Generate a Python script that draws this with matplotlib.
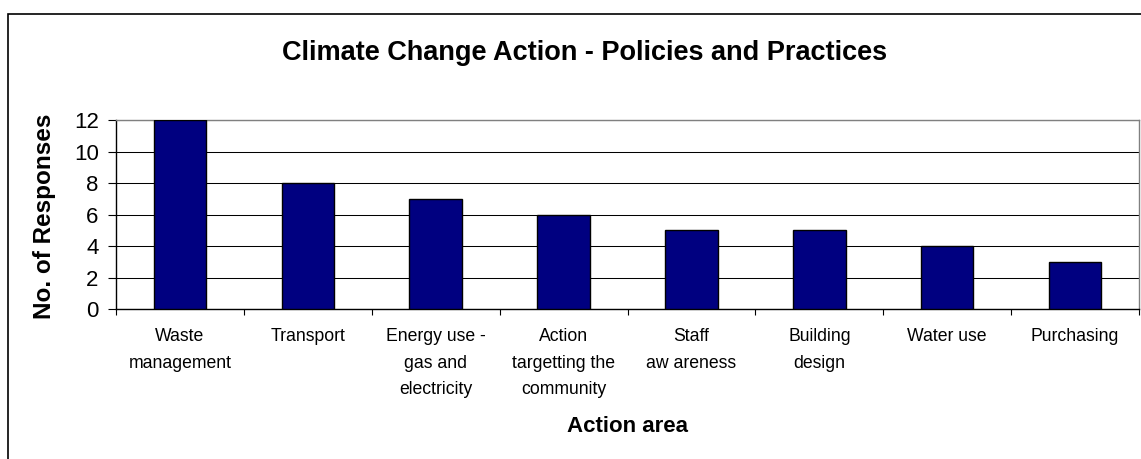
import matplotlib.pyplot as plt
from matplotlib.patches import Rectangle
import numpy as np

plt.rcParams['font.family'] = ['Liberation Sans', 'DejaVu Sans']

categories = ["Waste\nmanagement", "Transport", "Energy use -\ngas and\nelectricity",
              "Action\ntargetting the\ncommunity", "Staff\naw areness", "Building\ndesign",
              "Water use", "Purchasing"]
responses = [12, 8, 7, 6, 5, 5, 4, 3]
y_ticks = [0, 2, 4, 6, 8, 10, 12]

W, H = 1141, 459
fig = plt.figure(figsize=(W / 100, H / 100), dpi=100)
fig.patch.set_facecolor('white')

# plot area in pixel terms
left, right, top, bottom = 116, 1139, 120, 309
ax = fig.add_axes([left / W, 1 - bottom / H, (right - left) / W, (bottom - top) / H])

x = np.arange(len(categories))
ax.bar(x, responses, width=0.41, color='#000080', edgecolor='black', linewidth=1, zorder=3)

ax.set_xlim(-0.5, len(categories) - 0.5)
ax.set_ylim(0, 12)
ax.set_yticks(y_ticks)
ax.tick_params(axis='y', labelsize=16, length=6, width=0.8, pad=6.5, direction='out')
ax.yaxis.grid(True, color='black', linewidth=0.75, zorder=0)

# ticks between categories, labels centred under bars
ax.set_xticks(np.arange(len(categories) + 1) - 0.5)
ax.set_xticklabels([])
ax.tick_params(axis='x', which='major', length=4, width=0.8, direction='out')
ax.set_xticks(x, minor=True)
ax.set_xticklabels(categories, minor=True, fontsize=12.7, linespacing=1.7)
ax.tick_params(axis='x', which='minor', length=0, pad=14)

for side in ('top', 'right'):
    ax.spines[side].set_color('#808080')
    ax.spines[side].set_linewidth(1)
for side in ('left', 'bottom'):
    ax.spines[side].set_color('black')
    ax.spines[side].set_linewidth(1)

ax.set_ylabel("No. of Responses", fontsize=17.5, fontweight='bold', va='center')
ax.yaxis.set_label_coords((45 - left) / (right - left), (bottom - 216) / (bottom - top))
ax.set_xlabel("Action area", fontsize=16, fontweight='bold', va='center')
ax.xaxis.set_label_coords(0.5, (bottom - 427) / (bottom - top))

fig.text(585 / W, 1 - 60 / H, "Climate Change Action - Policies and Practices",
         fontsize=19.5, fontweight='bold', ha='center', va='baseline')

# chart area frame
fig.patches.append(Rectangle((8 / W, -0.05), 1.1, 1 - 14 / H + 0.05, transform=fig.transFigure,
                             fill=False, edgecolor='black', linewidth=1.2))

fig.savefig('out.png', dpi=100)
